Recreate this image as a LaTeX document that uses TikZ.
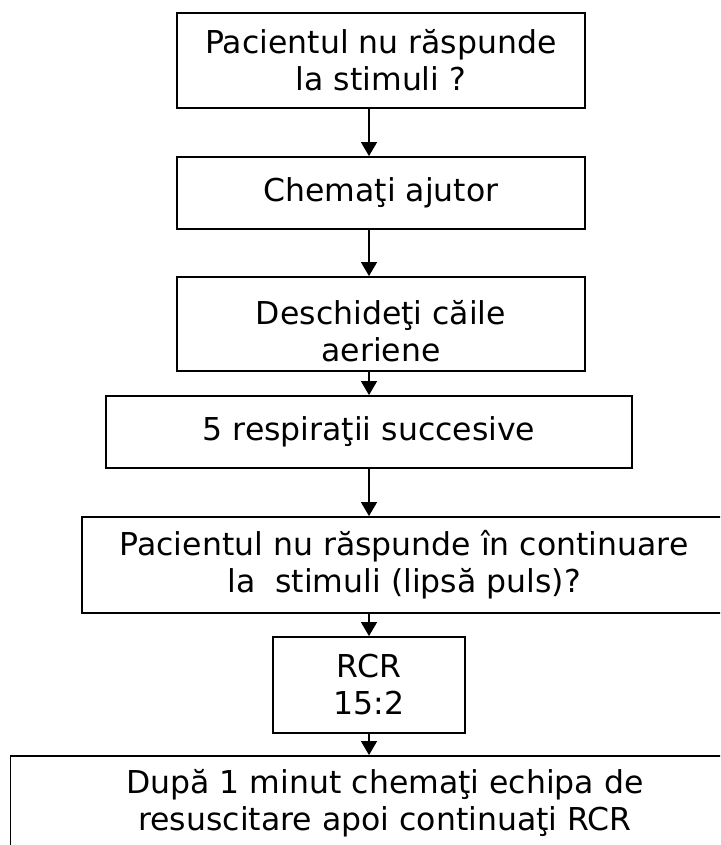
\documentclass[tikz,border=0pt]{standalone}
\usepackage{fontspec}
\setmainfont{DejaVu Sans}
\usetikzlibrary{arrows.meta}
\begin{document}
\begin{tikzpicture}[x=1pt,y=-1pt,
  flowbox/.style={draw=black, line width=1.9pt, fill=white, rectangle, align=center, inner sep=0pt,
    font=\fontsize{31.5}{37}\selectfont},
  arr/.style={draw=black, line width=1.5pt, -{Triangle[width=16pt,length=14pt]}}]
\useasboundingbox (0,0) rectangle (720,845);
\clip (0,0) rectangle (720,845);
\fill[white] (0,0) rectangle (720,845);
\coordinate (ax) at (369,0);
\node[flowbox, minimum width=408pt, minimum height=95pt] (b1) at (381,60.5) {Pacientul nu răspunde\\la stimuli ?};
\node[flowbox, minimum width=408pt, minimum height=72pt] (b2) at (381,193) {Chemaţi ajutor};
\node[flowbox, minimum width=408pt, minimum height=94pt] (b3) at (381,324) {};
\node[font=\fontsize{31.5}{37}\selectfont, align=center, inner sep=0pt] (t3) at (381,331) {Deschideţi căile\\aeriene};
\node[flowbox, minimum width=526pt, minimum height=72pt] (b4) at (369,432) {5 respiraţii succesive};
\node[flowbox, minimum width=644pt, minimum height=96pt] (b5) at (404,565) {Pacientul nu răspunde în continuare\\la~ stimuli (lipsă puls)?};
\node[flowbox, minimum width=192pt, minimum height=96pt] (b6) at (369,685) {RCR\\15:2};
\node[flowbox, minimum width=749pt, minimum height=95pt] (b7) at (385,803.5) {După 1 minut chemaţi echipa de\\resuscitare apoi continuaţi RCR};
\draw[arr] (b1.south -| ax) -- (b2.north -| ax);
\draw[arr] (b2.south -| ax) -- (b3.north -| ax);
\draw[arr] (b3.south -| ax) -- (b4.north -| ax);
\draw[arr] (b4.south -| ax) -- (b5.north -| ax);
\draw[arr] (b5.south -| ax) -- (b6.north -| ax);
\draw[arr] (b6.south -| ax) -- (b7.north -| ax);
\end{tikzpicture}
\end{document}
